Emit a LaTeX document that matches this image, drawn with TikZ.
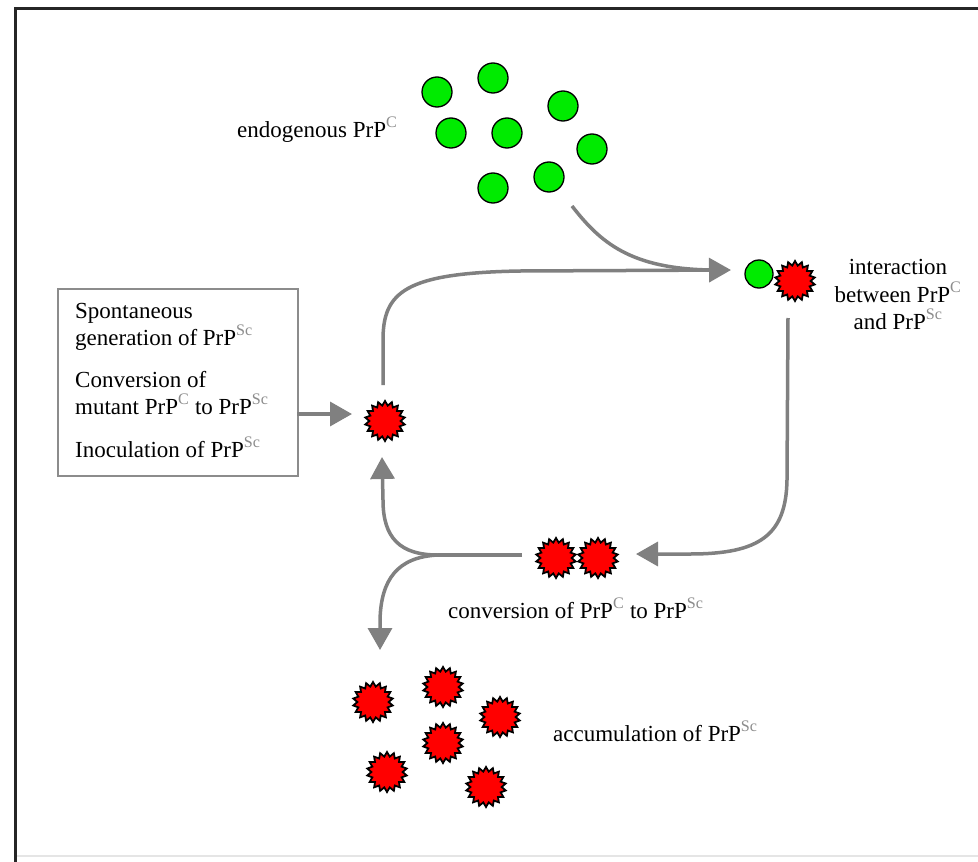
\documentclass[tikz,border=0pt]{standalone}
\usepackage{fontspec}
\setmainfont{Liberation Serif}
\usetikzlibrary{shapes.geometric,arrows.meta}
\definecolor{prpgreen}{RGB}{0,235,0}
\definecolor{prpred}{RGB}{255,0,0}
\definecolor{arrgray}{RGB}{128,128,128}
\newcommand{\supC}{\textsuperscript{\color{black!45}C}}
\newcommand{\supSc}{\textsuperscript{\color{black!45}Sc}}
\begin{document}
\begin{tikzpicture}[x=1pt,y=-1pt,
  prpc/.style={circle,draw=black,line width=1.3pt,fill=prpgreen,minimum size=30pt,inner sep=0pt},
  prpsc/.style={star,star points=18,star point ratio=1.28,draw=black,line width=1.8pt,fill=prpred,minimum size=40pt,inner sep=0pt},
  lbl/.style={font=\fontsize{23}{27}\selectfont,inner sep=0pt},
  flow/.style={draw=arrgray,line width=3.5pt,-{Triangle[length=22pt,width=24pt]}},
  flowplain/.style={draw=arrgray,line width=3.5pt},
  ]
\useasboundingbox (0,0) rectangle (978,862);
\fill[white] (0,0) rectangle (978,862);
% frame
\draw[black!85,line width=3pt] (15,862) -- (15,8) -- (978,8);
\draw[black!10,line width=1.5pt] (17,856) -- (978,856);

% endogenous PrPC
\node[prpc] (g1) at (437,92) {};
\node[prpc] (g2) at (493,78) {};
\node[prpc] (g3) at (563,106) {};
\node[prpc] (g4) at (451,133) {};
\node[prpc] (g5) at (507,133) {};
\node[prpc] (g6) at (592,149) {};
\node[prpc] (g7) at (493,188) {};
\node[prpc] (g8) at (549,177) {};
\node[lbl,anchor=base west] (tendo) at (237,137) {endogenous PrP\supC};

% interaction
\node[prpc,minimum size=28pt] (gi) at (759,274) {};
\node[prpsc] (ri) at (795,281) {};
\node[lbl,anchor=base] (tint1) at (898,274) {interaction};
\node[lbl,anchor=base] (tint2) at (898,302) {between PrP\supC};
\node[lbl,anchor=base] (tint3) at (898,329) {and PrP\supSc};

% box
\node[draw=black!45,line width=2pt,minimum width=240pt,minimum height=187pt,inner sep=0pt,anchor=north west] (box) at (57,288) {};
\node[lbl,anchor=base west] (b1) at (75,318) {Spontaneous};
\node[lbl,anchor=base west] (b2) at (75,345) {generation of PrP\supSc};
\node[lbl,anchor=base west] (b3) at (75,387) {Conversion of};
\node[lbl,anchor=base west] (b4) at (75,414) {mutant PrP\supC\ to PrP\supSc};
\node[lbl,anchor=base west] (b5) at (75,457) {Inoculation of PrP\supSc};

% central star
\node[prpsc] (s0) at (385,421) {};

% conversion pair
\node[prpsc] (c1) at (556,558) {};
\node[prpsc] (c2) at (598,558) {};
\node[lbl,anchor=base west] (tconv) at (448,618) {conversion of PrP\supC\ to PrP\supSc};

% accumulation
\node[prpsc] (a1) at (373,702) {};
\node[prpsc] (a2) at (443,687) {};
\node[prpsc] (a3) at (500,717) {};
\node[prpsc] (a4) at (443,743) {};
\node[prpsc] (a5) at (387,772) {};
\node[prpsc] (a6) at (486,787) {};
\node[lbl,anchor=base west] (tacc) at (553,741) {accumulation of PrP\supSc};

% connector coordinates
\coordinate (gout) at (572,206);
\coordinate (tipI) at (731,270);
\coordinate (s0up) at (383,385);
\coordinate (riout) at (788,318);
\coordinate (tipC) at (636,554);
\coordinate (cout) at (522,555);
\coordinate (split) at (438,555);
\coordinate (tipU) at (382,457);
\coordinate (tipD) at (380,650);
\coordinate (bxout) at (297,414);
\coordinate (tipB) at (352,414);

% connectors
\draw[flowplain] (gout) .. controls (600,242) and (630,269) .. (712,270);
\draw[flow] (s0up) -- (383,340) .. controls (383,292) and (405,273) .. (520,271) -- (tipI);
\draw[flow] (riout) -- (787,480) .. controls (786,535) and (760,554) .. (690,554) -- (tipC);
\draw[flowplain] (cout) -- (split);
\draw[flow] (split) .. controls (400,555) and (383,538) .. (383,500) -- (tipU);
\draw[flow] (split) .. controls (397,557) and (381,580) .. (380,620) -- (tipD);
\draw[flow] (bxout) -- (tipB);
\end{tikzpicture}
\end{document}
